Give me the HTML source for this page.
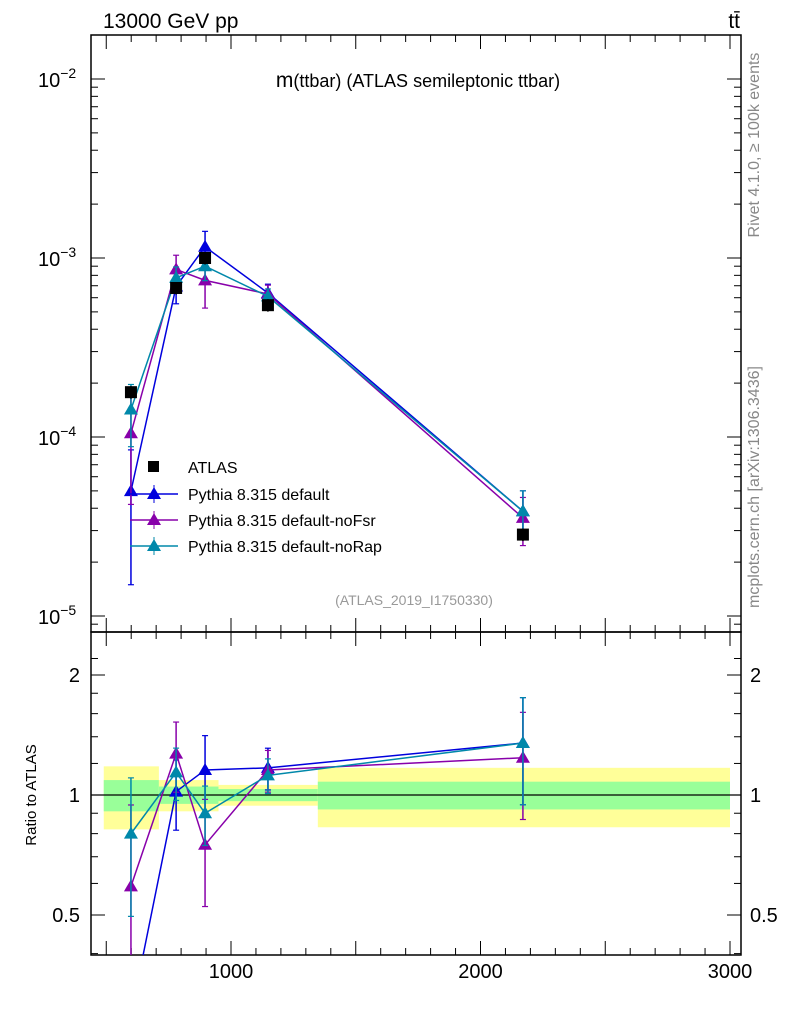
<!DOCTYPE html>
<html><head><meta charset="utf-8"><style>
html,body{margin:0;padding:0;background:#fff;overflow:hidden;width:786px;height:1024px;}
svg{display:block;font-family:"Liberation Sans",sans-serif;}
</style></head><body>
<svg id="c" width="786" height="1024" xmlns="http://www.w3.org/2000/svg"></svg>
<script>
const xCenters=[599,780,896,1148,2170];
const dataVals=[1.78e-4,6.8e-4,1.0e-3,5.45e-4,2.85e-5];
const dataErr=[0.08,0.08,0.08,0.08,0.08];
const blueRatio=[0.28,1.02,1.155,1.17,1.35];
const purpleRatio=[0.59,1.27,0.75,1.155,1.24];
const tealRatio=[0.80,1.14,0.90,1.12,1.35];
const blueErr=[0.7,0.2,0.22,0.12,0.3];
const purpleErr=[0.6,0.2,0.3,0.12,0.3];
const tealErr=[0.38,0.15,0.17,0.1,0.3];
const bandEdges=[490,711,950,1348,3000];
const bandYellow=[0.18,0.09,0.06,0.17];
const bandGreen=[0.09,0.05,0.035,0.08];
const xTicks=[1000,2000,3000];
const series=[
 {name:'Pythia 8.315 default',color:'#0000dd',r:blueRatio,e:blueErr,id:'blue'},
 {name:'Pythia 8.315 default-noFsr',color:'#8800aa',r:purpleRatio,e:purpleErr,id:'purple'},
 {name:'Pythia 8.315 default-noRap',color:'#0088aa',r:tealRatio,e:tealErr,id:'teal'}];
const S=document.getElementById('c');const NS='http://www.w3.org/2000/svg';
function el(t,a,p){const e=document.createElementNS(NS,t);for(const k in a)e.setAttribute(k,a[k]);(p||S).appendChild(e);return e;}
const L=91,R=741,T=35,M=632,B=955;
const X=v=>231+(v-1000)*0.2495;
const Y=v=>258-(Math.log10(v)+3)*179;
const RY=v=>795-Math.log10(v)*398.6;
const cl=(y,a,b)=>Math.max(a,Math.min(b,y));
const gb=el('g',{});
for(let i=0;i<bandYellow.length;i++){
 let r=el('rect',{x:X(bandEdges[i]),y:RY(1+bandYellow[i]),width:X(bandEdges[i+1])-X(bandEdges[i]),height:RY(1-bandYellow[i])-RY(1+bandYellow[i]),fill:'#ffff99'},gb);
 
 
 let g=el('rect',{x:X(bandEdges[i]),y:RY(1+bandGreen[i]),width:X(bandEdges[i+1])-X(bandEdges[i]),height:RY(1-bandGreen[i])-RY(1+bandGreen[i]),fill:'#99ff99'},gb);
 
 
}
el('line',{x1:L,x2:R,y1:RY(1),y2:RY(1),stroke:'#000','stroke-width':1.2});
el('rect',{x:L,y:T,width:R-L,height:M-T,fill:'none',stroke:'#000','stroke-width':1.5});
el('rect',{x:L,y:M,width:R-L,height:B-M,fill:'none',stroke:'#000','stroke-width':1.5});
for(let d=-6;d<=-1;d++)for(let m=1;m<10;m++){const v=m*Math.pow(10,d);const y=Y(v);if(y<T||y>M)continue;const len=m==1?14:7;
 el('line',{x1:L,x2:L+len,y1:y,y2:y,stroke:'#000'});el('line',{x1:R,x2:R-len,y1:y,y2:y,stroke:'#000'});}
[-2,-3,-4,-5].forEach(d=>{const t=el('text',{x:38,y:Y(Math.pow(10,d))+8,'font-size':20});t.innerHTML='10<tspan dy="-9" font-size="14">'+d.toString().replace('-','−')+'</tspan>';});
[0.4,0.5,0.6,0.7,0.8,0.9,1,1.2,1.4,1.6,1.8,2,2.2].forEach(v=>{const y=RY(v);if(y<M||y>B)return;const len=(v==0.5||v==1||v==2)?14:7;
 el('line',{x1:L,x2:L+len,y1:y,y2:y,stroke:'#000'});el('line',{x1:R,x2:R-len,y1:y,y2:y,stroke:'#000'});});
[[0.5,'0.5'],[1,'1'],[2,'2']].forEach(([v,s])=>{el('text',{x:80,y:RY(v)+7,'font-size':20,'text-anchor':'end'}).textContent=s;el('text',{x:750,y:RY(v)+7,'font-size':20}).textContent=s;});
for(let v=500;v<=3000;v+=100){const x=X(v);if(x<L||x>R)continue;const len=v%500==0?14:7;
 [[M,1],[B,-1],[T,1],[M,-1]].forEach(([y0,s])=>el('line',{x1:x,x2:x,y1:y0,y2:y0+s*len,stroke:'#000'}));}
xTicks.forEach(v=>{const t=el('text',{x:X(v),y:978,'font-size':20,'text-anchor':'middle'});t.textContent=v;});
const gm=el('g',{});const gr=el('g',{});
function tri(g,x,y,c){return el('polygon',{points:`${x},${y-7} ${x-7},${y+5} ${x+7},${y+5}`,fill:c},g);}
function ebar(g,x,y1,y2,c,lo,hi){const a=cl(y1,lo,hi),b=cl(y2,lo,hi);el('line',{x1:x,x2:x,y1:a,y2:b,stroke:c,'stroke-width':1.5},g);
 if(a===y1)el('line',{x1:x-3,x2:x+3,y1:a,y2:a,stroke:c,'stroke-width':1.2},g);if(b===y2)el('line',{x1:x-3,x2:x+3,y1:b,y2:b,stroke:c,'stroke-width':1.2},g);}
function clipPoly(pts,lo,hi){const out=[];for(let i=0;i<pts.length-1;i++){let [x1,y1]=pts[i],[x2,y2]=pts[i+1];
 if((y1>hi&&y2>hi)||(y1<lo&&y2<lo))continue;
 const f=(yy)=>x1+(x2-x1)*(yy-y1)/(y2-y1);
 if(y1>hi){x1=f(hi);y1=hi;} if(y2>hi){x2=f(hi);y2=hi;}
 if(y1<lo){x1=f(lo);y1=lo;} if(y2<lo){x2=f(lo);y2=lo;}
 out.push([[x1,y1],[x2,y2]]);}return out;}
series.forEach(s=>{
 const vals=s.r.map((r,i)=>r*dataVals[i]);
 const gs=el('g',{},gm);
 clipPoly(vals.map((v,i)=>[X(xCenters[i]),Y(v)]),T,M).forEach(sg=>el('line',{x1:sg[0][0],y1:sg[0][1],x2:sg[1][0],y2:sg[1][1],stroke:s.color,'stroke-width':1.5},gs));
 vals.forEach((v,i)=>{const x=X(xCenters[i]);ebar(gs,x,Y(v*(1+s.e[i])),Y(v*Math.max(0.05,1-s.e[i])),s.color,T,M);if(Y(v)<M)tri(gs,x,Y(v),s.color);});
 const gq=el('g',{},gr);
 clipPoly(s.r.map((v,i)=>[X(xCenters[i]),RY(v)]),M,B).forEach(sg=>el('line',{x1:sg[0][0],y1:sg[0][1],x2:sg[1][0],y2:sg[1][1],stroke:s.color,'stroke-width':1.5},gq));
 s.r.forEach((v,i)=>{const x=X(xCenters[i]);const y=RY(v);if(y>B||y<M)return;ebar(gq,x,RY(v*(1+s.e[i])),RY(v*Math.max(0.05,1-s.e[i])),s.color,M,B);tri(gq,x,y,s.color);});
});
dataVals.forEach((v,i)=>{const x=X(xCenters[i]);const y=Y(v);el('line',{x1:x,x2:x,y1:Y(v*(1+dataErr[i])),y2:Y(v*(1-dataErr[i])),stroke:'#000','stroke-width':1.5},gm);
 const r=el('rect',{x:x-6,y:y-6,width:12,height:12,fill:'#000'},gm);});
const lg=el('g',{});
el('rect',{x:148,y:461,width:11,height:11,fill:'#000'},lg);
el('text',{x:188,y:473,'font-size':16},lg).textContent='ATLAS';
series.forEach((s,i)=>{const y=494+i*26;el('line',{x1:130,x2:178,y1:y,y2:y,stroke:s.color,'stroke-width':1.5},lg);el('line',{x1:154,x2:154,y1:y-9,y2:y+9,stroke:s.color},lg);tri(lg,154,y,s.color);
 el('text',{x:188,y:y+6,'font-size':16},lg).textContent=s.name;});
el('text',{x:103,y:28,'font-size':21}).textContent='13000 GeV pp';
el('text',{x:740,y:28,'font-size':21,'text-anchor':'end'}).textContent='tt\u0304';
const tt=el('text',{x:418,y:87,'font-size':18,'text-anchor':'middle'});tt.innerHTML='<tspan font-size="21">m</tspan>(ttbar) (ATLAS semileptonic ttbar)';
el('text',{x:414,y:605,'font-size':14,'text-anchor':'middle',fill:'#999'}).textContent='(ATLAS_2019_I1750330)';
el('text',{x:759,y:145,'font-size':16,fill:'#888','text-anchor':'middle',transform:'rotate(-90 759 145)'}).textContent='Rivet 4.1.0, ≥ 100k events';
el('text',{x:759,y:487,'font-size':16,fill:'#888','text-anchor':'middle',transform:'rotate(-90 759 487)'}).textContent='mcplots.cern.ch [arXiv:1306.3436]';
const yl=el('text',{x:36,y:795,'font-size':15,'text-anchor':'middle',transform:'rotate(-90 36 795)'});yl.textContent='Ratio to ATLAS';
</script>
</body></html>
